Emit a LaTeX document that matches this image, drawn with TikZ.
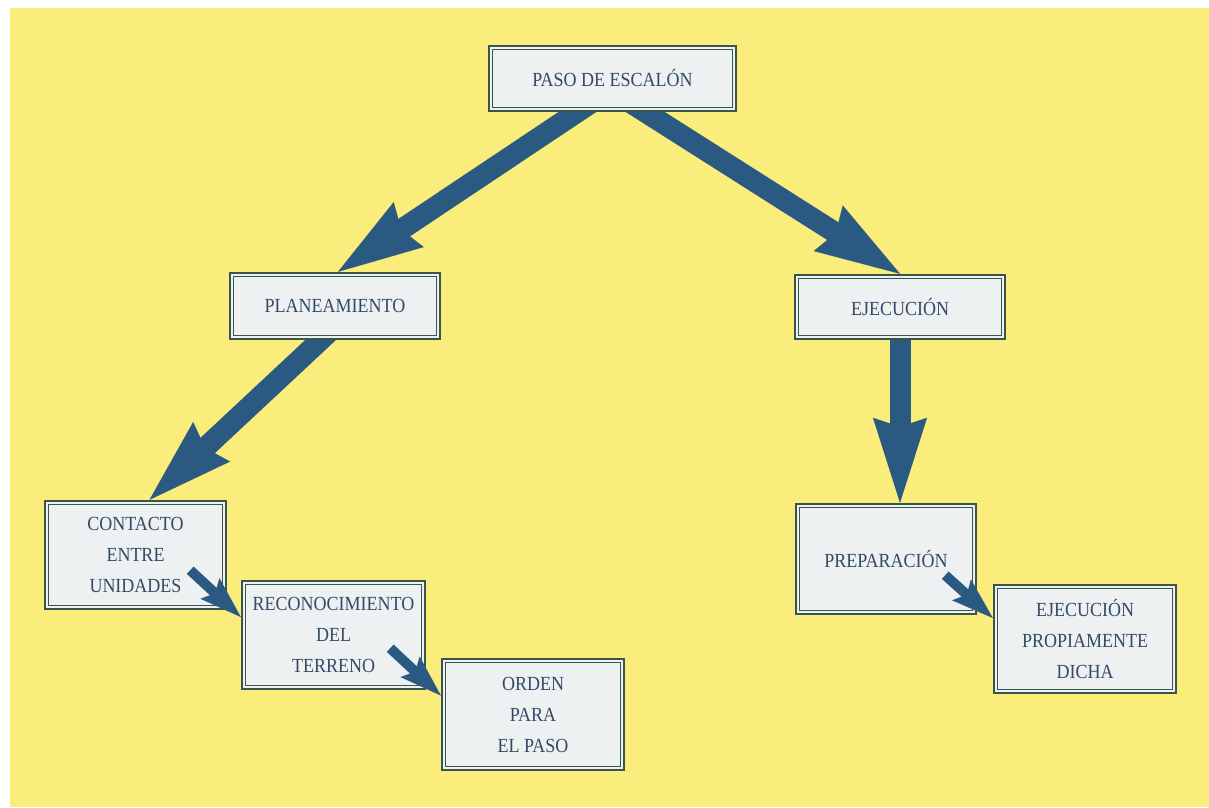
\documentclass[tikz,border=0pt]{standalone}
\usepackage{fontspec}
\setmainfont{Liberation Serif}
\newfontfamily\boxfont{Liberation Serif}[FakeStretch=0.9]
\usetikzlibrary{arrows.meta}
\pgfdeclarelayer{background}
\pgfsetlayers{background,main}
\definecolor{bgyellow}{RGB}{250,237,124}
\definecolor{boxfill}{RGB}{238,241,242}
\definecolor{bordercol}{RGB}{58,84,78}
\definecolor{textcol}{RGB}{50,74,102}
\definecolor{arrowcol}{RGB}{42,90,130}
\begin{document}
\begin{tikzpicture}[x=1pt,y=-1pt,
  box/.style={draw=bordercol, line width=2.4pt, fill=boxfill, text=textcol,
    font=\boxfont\fontsize{20}{31}\selectfont, align=center, inner sep=0pt,
    path picture={\draw[bordercol, line width=0.9pt]
      ([shift={(3.2pt,-3.2pt)}]path picture bounding box.north west) rectangle
      ([shift={(-3.2pt,3.2pt)}]path picture bounding box.south east);}},
  bigarrow/.style={color=arrowcol, line width=21pt,
    -{Stealth[length=85pt,width=54pt,inset=9pt,line width=0.1pt]}},
  smallarrow/.style={color=arrowcol, line width=10pt,
    -{Stealth[length=42pt,width=28pt,inset=7pt,line width=0.1pt]}}]
\useasboundingbox (0,0) rectangle (1209,807);

\node[box, minimum width=247pt, minimum height=65pt] (paso) at (612.5,78.5) {PASO DE ESCALÓN};
\node[box, minimum width=210pt, minimum height=66pt] (plan) at (335,306) {PLANEAMIENTO};
\node[box, minimum width=210pt, minimum height=64pt] (ejec) at (900,307) {EJECUCIÓN};
\node[box, minimum width=181pt, minimum height=108pt] (contacto) at (135.5,555) {CONTACTO\\ENTRE\\UNIDADES};
\node[box, minimum width=183pt, minimum height=108pt] (recon) at (333.5,635) {RECONOCIMIENTO\\DEL\\TERRENO};
\node[box, minimum width=182pt, minimum height=111pt] (orden) at (533,714.5) {ORDEN\\PARA\\EL PASO};
\node[box, minimum width=180pt, minimum height=110pt] (prep) at (886,559) {PREPARACIÓN};
\node[box, minimum width=182pt, minimum height=108pt] (ejprop) at (1085,639) {EJECUCIÓN\\PROPIAMENTE\\DICHA};

\begin{pgfonlayer}{background}
  \fill[white] (0,0) rectangle (1209,807);
  \fill[bgyellow] (10,8) rectangle (1209,807);
  \draw[bigarrow] ([xshift=15pt]paso.center) -- ([xshift=3pt]plan.north);
  \draw[bigarrow] ([xshift=-20pt]paso.center) -- (ejec.north);
  \draw[bigarrow] ([xshift=22pt]plan.center) -- ([xshift=14pt]contacto.north);
  \draw[bigarrow] (ejec.center) -- (ejec.center |- prep.north);
\end{pgfonlayer}

\draw[smallarrow] ([shift={(-37pt,40pt)}]contacto.south east) -- ([yshift=18pt]recon.west);
\draw[smallarrow] ([shift={(-36pt,42pt)}]recon.south east) -- ([yshift=19pt]orden.west);
\draw[smallarrow] ([shift={(-32pt,40pt)}]prep.south east) -- ([yshift=21pt]ejprop.west);
\end{tikzpicture}
\end{document}
